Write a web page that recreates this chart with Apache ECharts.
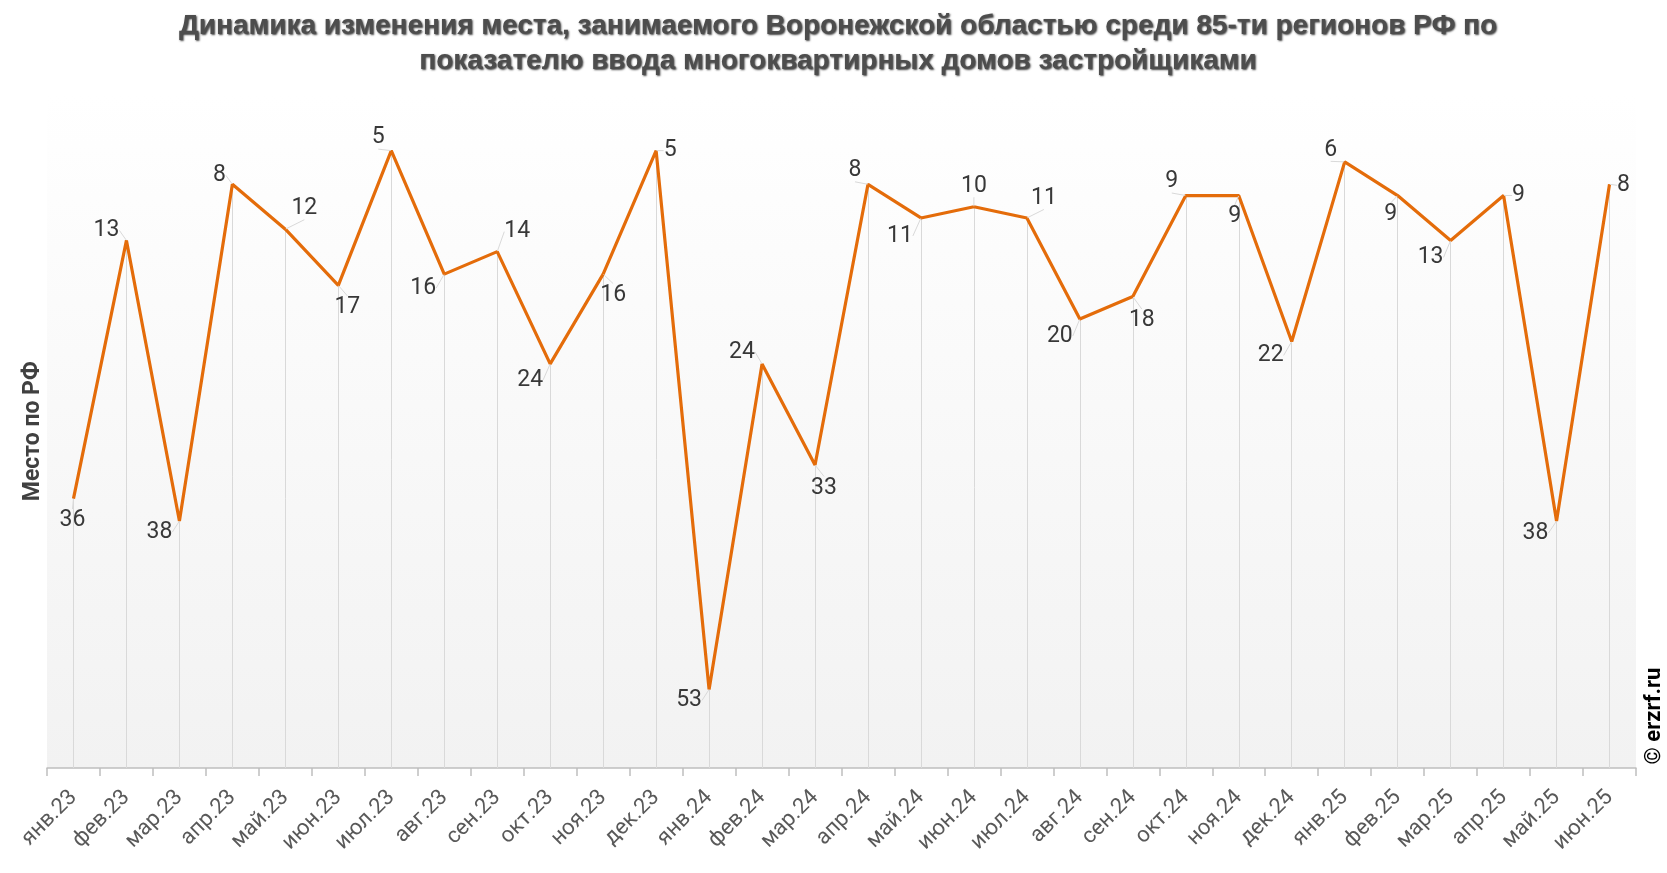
<!DOCTYPE html>
<html>
<head>
<meta charset="utf-8">
<script src="https://cdn.jsdelivr.net/npm/echarts@6/dist/echarts.min.js"></script>
<style>
  html, body { margin: 0; padding: 0; background: #fff; }
  #chart { width: 1667px; height: 873px; }
</style>
</head>
<body>
<div id="chart"></div>
<script>
// месяцы и место Воронежской области
const months = ['янв.23', 'фев.23', 'мар.23', 'апр.23', 'май.23', 'июн.23', 'июл.23', 'авг.23', 'сен.23', 'окт.23', 'ноя.23', 'дек.23',
    'янв.24', 'фев.24', 'мар.24', 'апр.24', 'май.24', 'июн.24', 'июл.24', 'авг.24', 'сен.24', 'окт.24', 'ноя.24', 'дек.24',
    'янв.25', 'фев.25', 'мар.25', 'апр.25', 'май.25', 'июн.25'];
const places = [36, 13, 38, 8, 12, 17, 5, 16, 14, 24, 16, 5,
    53, 24, 33, 8, 11, 10, 11, 20, 18, 9, 9, 22,
    6, 9, 13, 9, 38, 8];
const placeMin = 0;
const placeMax = 60;

// сдвиг подписей относительно точки (как в исходной диаграмме)
const labelShift = [
    [-1, 22], [-20, -10], [-20, 11], [-13, -9], [19, -21], [9, 22], [-13, -13], [-21, 14], [20, -20], [-20, 16], [10, 21], [14, 0],
    [-20, 11], [-20, -12], [9, 23], [-13, -14], [-21, 18], [0, -21], [17, -20], [-20, 17], [9, 24], [-14, -14], [-4, 21], [-21, 14],
    [-14, -12], [-7, 19], [-20, 17], [15, 0], [-21, 12], [14, 1]
];

let dropLines = places.map(function (v, i) {
    return [{ coord: [i, v] }, { coord: [i, placeMax] }];
});

let chart = echarts.init(document.querySelector('#chart'));
chart.setOption({
    animation: false,
    title: {
        text: 'Динамика изменения места, занимаемого Воронежской областью среди 85-ти регионов РФ по\nпоказателю ввода многоквартирных домов застройщиками',
        left: 833,
        top: 4,
        textAlign: 'center',
        textStyle: {
            fontFamily: 'Liberation Sans',
            fontSize: 28,
            fontWeight: 'bold',
            color: '#4d4d4d',
            lineHeight: 35,
            textShadowColor: 'rgba(0,0,0,0.75)',
            textShadowBlur: 2,
            textShadowOffsetX: 1,
            textShadowOffsetY: 1
        }
    },
    grid: {
        left: 47,
        right: 31,
        top: 94.5,
        bottom: 105,
        show: true,
        borderWidth: 0,
        backgroundColor: new echarts.graphic.LinearGradient(0, 0, 0, 1, [
            { offset: 0, color: '#ffffff' },
            { offset: 1, color: '#f2f2f2' }
        ])
    },
    xAxis: {
        type: 'category',
        data: months,
        boundaryGap: true,
        position: 'bottom',
        axisLine: { onZero: false, lineStyle: { color: '#bfbfbf', width: 1.5 } },
        axisTick: { show: true, length: 8, lineStyle: { color: '#bfbfbf', width: 1.5 } },
        axisLabel: {
            interval: 0,
            rotate: 45,
            margin: 26,
            fontFamily: 'Roboto',
            fontSize: 22,
            color: '#595959'
        },
        splitLine: { show: false }
    },
    yAxis: {
        type: 'value',
        inverse: true,
        min: placeMin,
        max: placeMax,
        name: 'Место по РФ',
        nameLocation: 'middle',
        nameGap: 2,
        nameTextStyle: {
            fontFamily: 'Roboto',
            fontSize: 23,
            fontWeight: 'bold',
            color: '#404040'
        },
        axisLine: { show: false },
        axisTick: { show: false },
        axisLabel: { show: false },
        splitLine: { show: false }
    },
    graphic: [{
        type: 'text',
        x: 1654,
        y: 716,
        rotation: Math.PI / 2,
        style: {
            text: '© erzrf.ru',
            fontFamily: 'Roboto',
            fontSize: 22,
            fontWeight: 'bold',
            fill: '#000',
            align: 'center',
            verticalAlign: 'middle'
        }
    }],
    series: [{
        type: 'line',
        data: places,
        symbol: 'circle',
        symbolSize: 1,
        showSymbol: true,
        itemStyle: { color: 'rgba(0,0,0,0)' },
        lineStyle: { color: '#e46c0a', width: 3.2 },
        z: 3,
        label: {
            show: true,
            position: 'inside',
            fontFamily: 'Roboto',
            fontSize: 23,
            color: '#383838'
        },
        labelLine: {
            show: true,
            lineStyle: { color: '#d9d9d9', width: 1 }
        },
        labelLayout: function (p) {
            return { dx: labelShift[p.dataIndex][0], dy: labelShift[p.dataIndex][1] };
        },
        markLine: {
            silent: true,
            symbol: 'none',
            label: { show: false },
            lineStyle: { color: '#d9d9d9', width: 1, type: 'solid' },
            data: dropLines,
            z: 1
        }
    }]
});
</script>
</body>
</html>
